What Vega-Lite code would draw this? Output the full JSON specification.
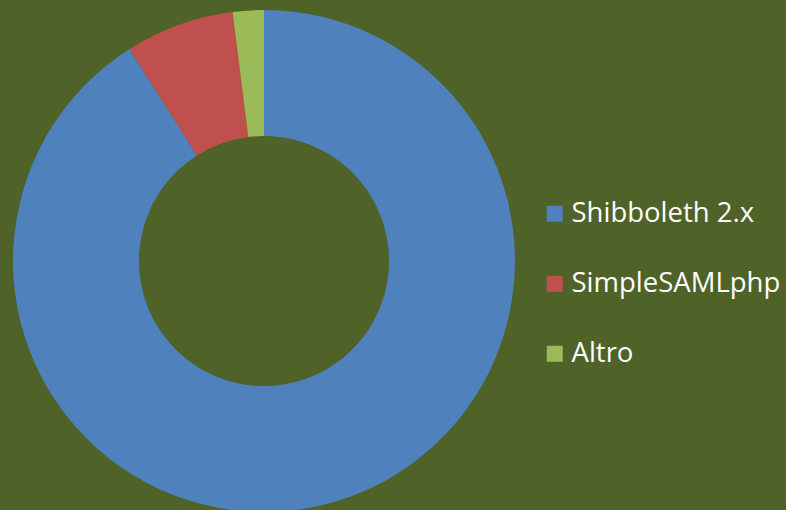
{
  "$schema": "https://vega.github.io/schema/vega-lite/v6.json",
  "width": 528,
  "height": 500,
  "padding": {"left": 0, "top": 10, "right": 80, "bottom": 0},
  "background": "#4F6228",
  "config": {"view": {"stroke": null}},
  "data": {"values": [
    {"software": "Shibboleth 2.x", "share": 91.0, "ord": 1},
    {"software": "SimpleSAMLphp", "share": 7.0, "ord": 2},
    {"software": "Altro", "share": 2.0, "ord": 3}
  ]},
  "mark": {"type": "arc", "radius": 251, "innerRadius": 125, "stroke": null},
  "encoding": {
    "theta": {"field": "share", "type": "quantitative", "stack": true},
    "order": {"field": "ord", "type": "quantitative"},
    "color": {
      "field": "software",
      "type": "nominal",
      "sort": ["Shibboleth 2.x", "SimpleSAMLphp", "Altro"],
      "scale": {"domain": ["Shibboleth 2.x", "SimpleSAMLphp", "Altro"], "range": ["#4F81BD", "#C0504D", "#9BBB59"]},
      "legend": {
        "title": null,
        "orient": "none",
        "legendX": 541,
        "legendY": 189,
        "padding": 0,
        "symbolType": "square",
        "symbolSize": 256,
        "symbolStrokeWidth": 0,
        "symbolOpacity": 1,
        "labelFont": "Open Sans",
        "labelFontSize": 27.5,
        "labelColor": "#FFFFFF",
        "labelOffset": 3,
        "labelLimit": 400,
        "rowPadding": 41
      }
    }
  }
}
